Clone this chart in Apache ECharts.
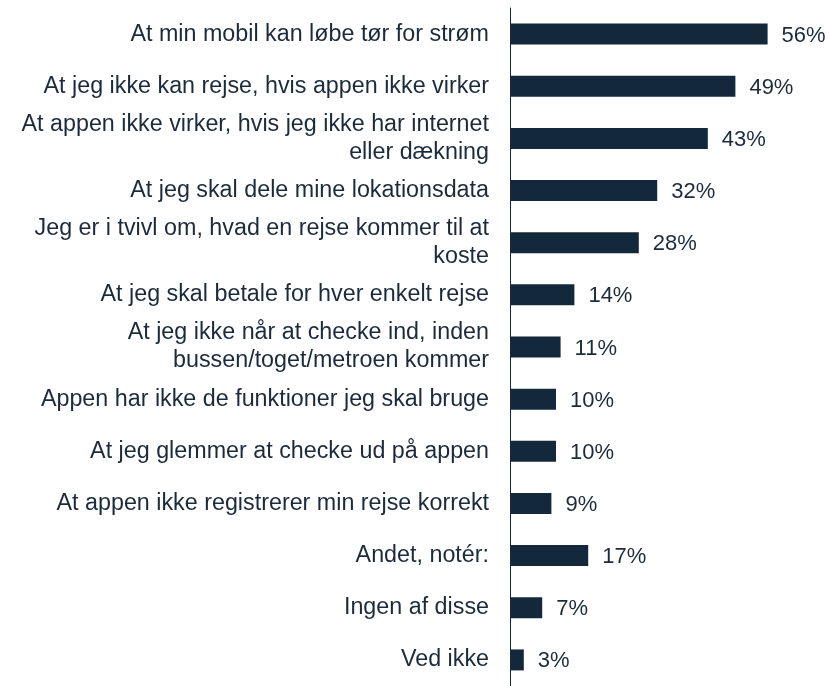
<!DOCTYPE html>
<html>
<head>
<meta charset="utf-8">
<script src="https://cdn.jsdelivr.net/npm/echarts@6/dist/echarts.min.js"></script>
<style>html,body{margin:0;padding:0;background:#fff}#c{width:829px;height:686px}</style>
</head>
<body>
<div id="c"></div>
<script>
const categories = [
  "At min mobil kan løbe tør for strøm",
  "At jeg ikke kan rejse, hvis appen ikke virker",
  "At appen ikke virker, hvis jeg ikke har internet\neller dækning",
  "At jeg skal dele mine lokationsdata",
  "Jeg er i tvivl om, hvad en rejse kommer til at\nkoste",
  "At jeg skal betale for hver enkelt rejse",
  "At jeg ikke når at checke ind, inden\nbussen/toget/metroen kommer",
  "Appen har ikke de funktioner jeg skal bruge",
  "At jeg glemmer at checke ud på appen",
  "At appen ikke registrerer min rejse korrekt",
  "Andet, notér:",
  "Ingen af disse",
  "Ved ikke"
];
const values = [56, 49, 43, 32, 28, 14, 11, 10, 10, 9, 17, 7, 3];

const chart = echarts.init(document.getElementById('c'));
chart.setOption({
  animation: false,
  grid: { left: 510, right: 43, top: 8, height: 692, containLabel: false },
  xAxis: {
    type: 'value', min: 0, max: 60, show: false
  },
  yAxis: {
    type: 'category', data: categories, inverse: true,
    axisLine: { show: true, lineStyle: { color: '#14283c', width: 1 } },
    axisTick: { show: false },
    axisLabel: {
      margin: 21, color: '#1b2b3b', fontSize: 23.3, lineHeight: 28,
      fontFamily: 'Liberation Sans, Arial, sans-serif', align: 'right'
    }
  },
  series: [{
    type: 'bar', data: values, barWidth: 21,
    itemStyle: { color: '#14283c' },
    label: {
      show: true, position: 'right', distance: 14, offset: [0, 1.5],
      formatter: '{c}%', color: '#1b2b3b', fontSize: 22,
      fontFamily: 'Liberation Sans, Arial, sans-serif'
    }
  }]
});
</script>
</body>
</html>
